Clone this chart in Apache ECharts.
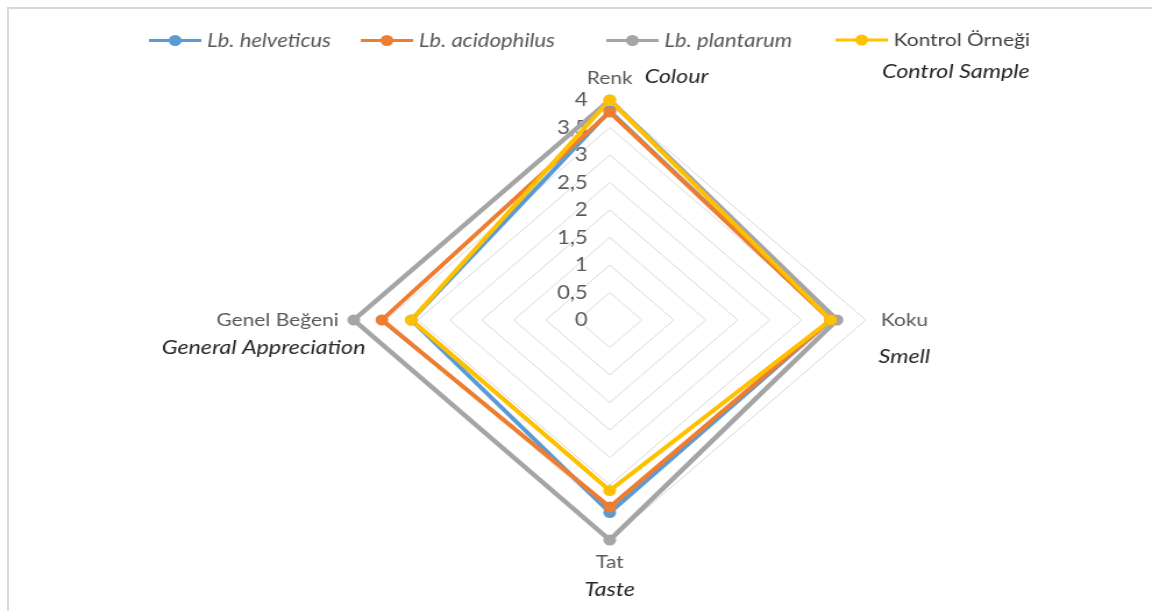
<!DOCTYPE html>
<html>
<head>
<meta charset="utf-8">
<script src="https://cdn.jsdelivr.net/npm/echarts@6/dist/echarts.min.js"></script>
<style>
  html, body { margin: 0; padding: 0; background: #fff; }
  #frame {
    position: absolute; left: 7px; top: 7px; width: 1145px; height: 604px;
    border-left: 2px solid #d9d9d9; border-top: 2px solid #d9d9d9;
    box-sizing: border-box;
  }
  /* the whole chart is drawn 990px wide and widened to the page */
  #chart {
    position: absolute; left: 0; top: 0; width: 990px; height: 611px;
    transform: scaleX(1.16364); transform-origin: 0 0;
  }
</style>
</head>
<body>
<div id="frame"></div>
<div id="chart"></div>
<script>
// Sensory attributes, listed in the order the radar lays them out (counter-clockwise from the top)
const categories = ['Renk', 'Genel Beğeni', 'Tat', 'Koku'];
const englishNames = { 'Renk': 'Colour', 'Genel Beğeni': 'General Appreciation', 'Tat': 'Taste', 'Koku': 'Smell' };

const seriesNames = ['Lb. helveticus', 'Lb. acidophilus', 'Lb. plantarum', 'Kontrol Örneği'];
// Mean scores per attribute: Renk, Genel Beğeni, Tat, Koku
const helveticus  = [3.80, 3.10, 3.50, 3.45];
const acidophilus = [3.78, 3.56, 3.40, 3.45];
const plantarum   = [4.00, 4.00, 4.00, 3.55];
const kontrol     = [4.00, 3.10, 3.10, 3.45];

const scaleMax = 4;
const scaleStep = 0.5;

const colors = ['#5B9BD5', '#ED7D31', '#A5A5A5', '#FFC000'];
const FONT = 'Lato, "Open Sans", sans-serif';
const ITALIC = 'italic 20px ' + FONT;

// legend marker: a short thick line with a dot in the middle
const LINE_DOT_ICON = 'path://M0,4.5h45v3h-45z M17,6a5.5,5.5 0 1,1 11,0a5.5,5.5 0 1,1 -11,0z';
// left edge of each legend entry
const legendLefts = [123, 305, 516, 713];

const chart = echarts.init(document.getElementById('chart'), null, { renderer: 'canvas' });

const values = [helveticus, acidophilus, plantarum, kontrol];

const legends = seriesNames.map(function (n, i) {
  const plain = i === 3;
  return {
    left: legendLefts[i],
    top: 26,
    icon: LINE_DOT_ICON,
    itemWidth: 45,
    itemHeight: 12,
    data: [n],
    textStyle: {
      fontFamily: FONT,
      fontStyle: plain ? 'normal' : 'italic',
      fontSize: plain ? 18 : 19,
      color: plain ? '#404040' : '#595959'
    }
  };
});

const option = {
  animation: false,
  color: colors,
  textStyle: { fontFamily: FONT },
  legend: legends,
  radar: {
    center: [524, 320],
    radius: 220,
    startAngle: 90,
    shape: 'polygon',
    splitNumber: scaleMax / scaleStep,
    nameGap: 13,
    axisName: { color: '#595959', fontSize: 18, fontFamily: FONT },
    axisLine: { show: false },
    axisTick: { show: false },
    splitArea: { show: false },
    splitLine: { lineStyle: { color: '#d9d9d9', width: 1 } },
    axisLabel: { show: false },
    indicator: categories.map(function (c, i) {
      const ind = { name: c, min: 0, max: scaleMax };
      if (i === 0) {
        ind.axisLabel = {
          show: true,
          margin: 19,
          color: '#595959',
          fontSize: 19,
          fontFamily: FONT,
          formatter: function (v) { return String(v).replace('.', ','); }
        };
      }
      return ind;
    })
  },
  graphic: [
    { type: 'text', x: 554, y: 77, style: { text: englishNames['Renk'], font: ITALIC, fill: '#262626', textVerticalAlign: 'middle' } },
    { type: 'text', x: 758, y: 72, style: { text: 'Control Sample', font: ITALIC, fill: '#262626', textVerticalAlign: 'middle' } },
    { type: 'text', x: 755, y: 357, style: { text: englishNames['Koku'], font: ITALIC, fill: '#262626', textVerticalAlign: 'middle' } },
    { type: 'text', x: 524, y: 590, style: { text: englishNames['Tat'], font: ITALIC, fill: '#262626', textAlign: 'center', textVerticalAlign: 'middle' } },
    { type: 'text', x: 314, y: 348, style: { text: englishNames['Genel Beğeni'], font: ITALIC, fill: '#262626', textAlign: 'right', textVerticalAlign: 'middle' } }
  ],
  series: [{
    type: 'radar',
    symbol: 'circle',
    symbolSize: 11,
    data: seriesNames.map(function (n, i) {
      return {
        name: n,
        value: values[i],
        lineStyle: { color: colors[i], width: i === 2 ? 4.5 : 4 },
        itemStyle: { color: colors[i] }
      };
    })
  }]
};

chart.setOption(option);
</script>
</body>
</html>
